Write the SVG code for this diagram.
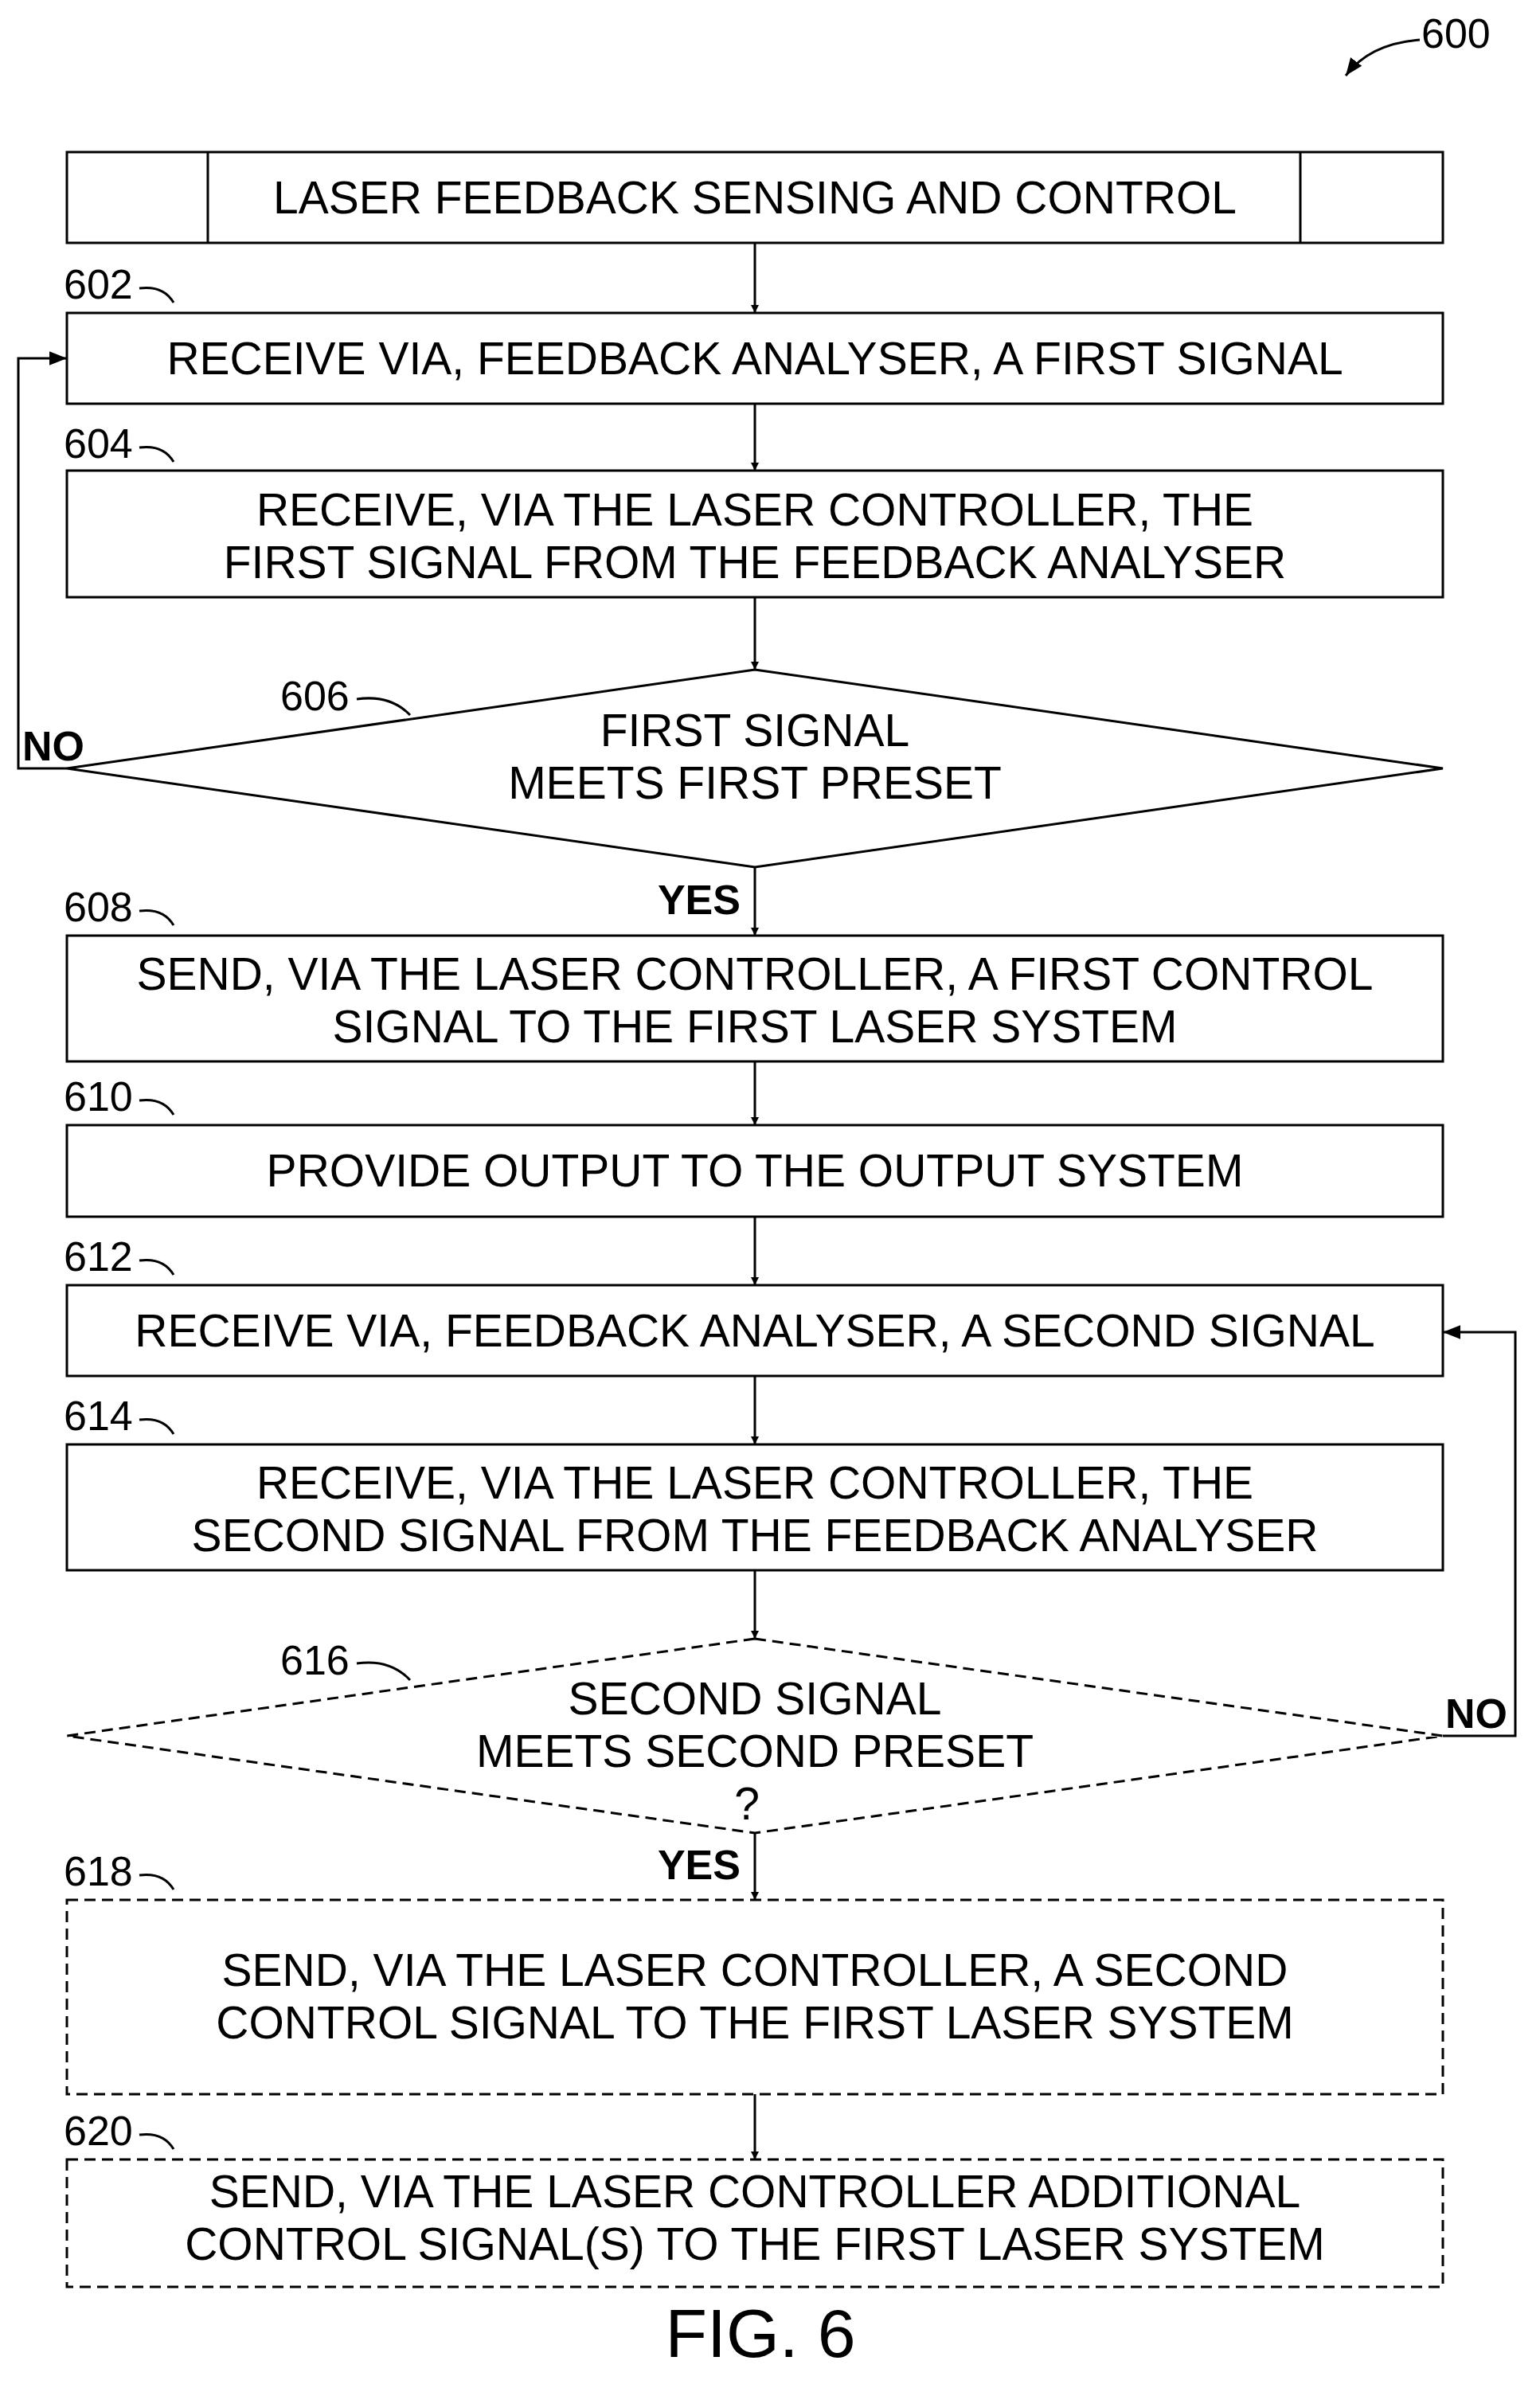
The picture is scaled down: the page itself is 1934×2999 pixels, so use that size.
<svg xmlns="http://www.w3.org/2000/svg" width="1934" height="2999" viewBox="0 0 1934 2999">
<defs>
<marker id="ah" viewBox="0 0 10 10" refX="10" refY="5" markerWidth="10" markerHeight="10" markerUnits="userSpaceOnUse" orient="auto"><path d="M0,0 L10,5 L0,10 z" fill="#000"/></marker>
<marker id="ah2" viewBox="0 0 10 10" refX="10" refY="5" markerWidth="22" markerHeight="22" markerUnits="userSpaceOnUse" orient="auto"><path d="M0,1 L10,5 L0,9 z" fill="#000"/></marker>
</defs>
<style>
.b{fill:#fff;stroke:#000;stroke-width:3}
.d{stroke-dasharray:14,8}
.t{font-family:"Liberation Sans",Arial,sans-serif;font-size:57px;text-anchor:middle;fill:#000}
.r{font-family:"Liberation Sans",Arial,sans-serif;font-size:52px;fill:#000}
.bo{font-family:"Liberation Sans",Arial,sans-serif;font-size:52px;font-weight:bold;fill:#000}
.c{fill:none;stroke:#000;stroke-width:3}
</style>
<rect width="1934" height="2999" fill="#fff"/>
<g id="ref600"><text class="r" x="1785" y="60">600</text><path class="c" d="M1783,50 Q1720,55 1690,95" marker-end="url(#ah2)"/></g>
<g id="header"><rect class="b" x="84" y="191" width="1728" height="114"/><line class="c" x1="261" y1="191" x2="261" y2="305"/><line class="c" x1="1633" y1="191" x2="1633" y2="305"/><text class="t" x="948" y="268">LASER FEEDBACK SENSING AND CONTROL</text></g>
<g id="n602"><rect class="b" x="84" y="393" width="1728" height="114"/><text class="t" x="948" y="470">RECEIVE VIA, FEEDBACK ANALYSER, A FIRST SIGNAL</text><text class="r" x="80" y="375">602</text><path class="c" d="M175,362 Q205,358 218,380"/></g>
<g id="n604"><rect class="b" x="84" y="591" width="1728" height="159"/><text class="t" x="948" y="660">RECEIVE, VIA THE LASER CONTROLLER, THE</text><text class="t" x="948" y="726">FIRST SIGNAL FROM THE FEEDBACK ANALYSER</text><text class="r" x="80" y="575">604</text><path class="c" d="M175,562 Q205,558 218,580"/></g>
<g id="n606"><polygon class="b" points="948,841 1812,965 948,1089 84,965"/><text class="t" x="948" y="937">FIRST SIGNAL</text><text class="t" x="948" y="1003">MEETS FIRST PRESET</text><text class="r" x="352" y="892">606</text><path class="c" d="M448,878 Q490,872 515,898"/></g>
<g id="n608"><rect class="b" x="84" y="1175" width="1728" height="158"/><text class="t" x="948" y="1243">SEND, VIA THE LASER CONTROLLER, A FIRST CONTROL</text><text class="t" x="948" y="1309">SIGNAL TO THE FIRST LASER SYSTEM</text><text class="r" x="80" y="1157">608</text><path class="c" d="M175,1144 Q205,1140 218,1162"/></g>
<g id="n610"><rect class="b" x="84" y="1413" width="1728" height="115"/><text class="t" x="948" y="1490">PROVIDE OUTPUT TO THE OUTPUT SYSTEM</text><text class="r" x="80" y="1395">610</text><path class="c" d="M175,1382 Q205,1378 218,1400"/></g>
<g id="n612"><rect class="b" x="84" y="1614" width="1728" height="114"/><text class="t" x="948" y="1691">RECEIVE VIA, FEEDBACK ANALYSER, A SECOND SIGNAL</text><text class="r" x="80" y="1596">612</text><path class="c" d="M175,1583 Q205,1579 218,1601"/></g>
<g id="n614"><rect class="b" x="84" y="1814" width="1728" height="158"/><text class="t" x="948" y="1882">RECEIVE, VIA THE LASER CONTROLLER, THE</text><text class="t" x="948" y="1948">SECOND SIGNAL FROM THE FEEDBACK ANALYSER</text><text class="r" x="80" y="1796">614</text><path class="c" d="M175,1783 Q205,1779 218,1801"/></g>
<g id="n616"><polygon class="b d" points="948,2058 1812,2180 948,2302 84,2180"/><text class="t" x="948" y="2153">SECOND SIGNAL</text><text class="t" x="948" y="2219">MEETS SECOND PRESET</text><text class="t" x="938" y="2285">?</text><text class="r" x="352" y="2103">616</text><path class="c" d="M448,2089 Q490,2083 515,2110"/></g>
<g id="n618"><rect class="b d" x="84" y="2386" width="1728" height="244"/><text class="t" x="948" y="2494">SEND, VIA THE LASER CONTROLLER, A SECOND</text><text class="t" x="948" y="2560">CONTROL SIGNAL TO THE FIRST LASER SYSTEM</text><text class="r" x="80" y="2368">618</text><path class="c" d="M175,2355 Q205,2351 218,2373"/></g>
<g id="n620"><rect class="b d" x="84" y="2712" width="1728" height="160"/><text class="t" x="948" y="2772">SEND, VIA THE LASER CONTROLLER ADDITIONAL</text><text class="t" x="948" y="2838">CONTROL SIGNAL(S) TO THE FIRST LASER SYSTEM</text><text class="r" x="80" y="2694">620</text><path class="c" d="M175,2681 Q205,2677 218,2699"/></g>
<g id="connectors">
<line class="c" x1="948" y1="305" x2="948" y2="393" marker-end="url(#ah)"/>
<line class="c" x1="948" y1="507" x2="948" y2="591" marker-end="url(#ah)"/>
<line class="c" x1="948" y1="750" x2="948" y2="841" marker-end="url(#ah)"/>
<line class="c" x1="948" y1="1089" x2="948" y2="1175" marker-end="url(#ah)"/>
<line class="c" x1="948" y1="1333" x2="948" y2="1413" marker-end="url(#ah)"/>
<line class="c" x1="948" y1="1528" x2="948" y2="1614" marker-end="url(#ah)"/>
<line class="c" x1="948" y1="1728" x2="948" y2="1814" marker-end="url(#ah)"/>
<line class="c" x1="948" y1="1972" x2="948" y2="2058" marker-end="url(#ah)"/>
<line class="c" x1="948" y1="2302" x2="948" y2="2386" marker-end="url(#ah)"/>
<line class="c" x1="948" y1="2630" x2="948" y2="2712" marker-end="url(#ah)"/>
<polyline class="c" points="84,965 23,965 23,450 84,450" marker-end="url(#ah2)"/>
<polyline class="c" points="1812,2180 1903,2180 1903,1673 1812,1673" marker-end="url(#ah2)"/>
<text class="bo" x="28" y="955">NO</text>
<text class="bo" x="1815" y="2170">NO</text>
<text class="bo" x="930" y="1148" text-anchor="end">YES</text>
<text class="bo" x="930" y="2360" text-anchor="end">YES</text>
</g>
<text class="t" x="955" y="2960" style="font-size:86px">FIG. 6</text>
</svg>
